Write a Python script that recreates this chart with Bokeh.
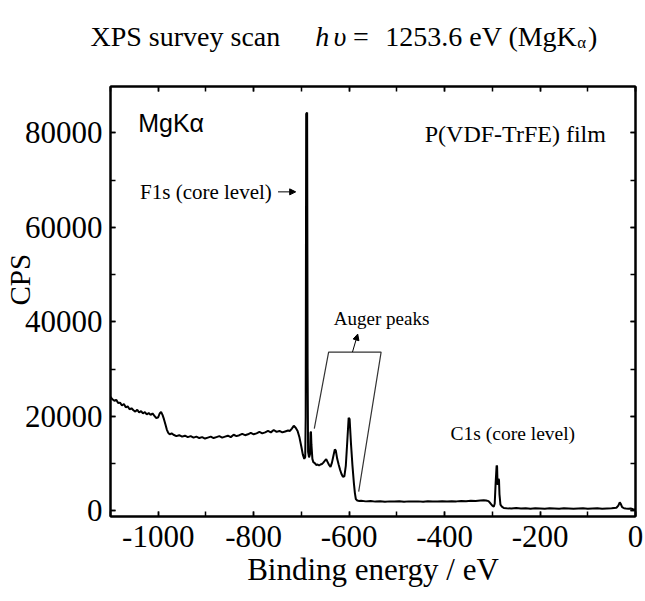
import math
from bokeh.plotting import figure
from bokeh.layouts import column
from bokeh.models import (Range1d, LinearAxis, SingleIntervalTicker, Label,
                          Arrow, NormalHead, PrintfTickFormatter, CustomJSTickFormatter)
from bokeh.embed import file_html
from bokeh.resources import INLINE

# ---------------- data ----------------
energy = [
    -1100, -1096, -1092, -1088, -1084, -1080, -1076, -1072, -1068, -1064,
    -1060, -1056, -1052, -1048, -1044, -1040, -1036, -1032, -1028, -1024,
    -1020, -1016, -1012, -1008, -1004, -1000, -997, -994, -991, -988,
    -985, -982, -979, -976, -972,
    -968, -962, -956, -950, -944, -938, -932, -926, -920, -914,
    -908, -902, -896, -890, -884, -878, -872, -866, -860, -854,
    -848, -842, -836, -830, -824, -818, -812, -806, -800, -794,
    -788, -782, -776, -770, -764, -758, -752, -746, -740, -734,
    -728, -724, -720, -716, -712, -708, -704, -700, -697, -694,
    -692, -691, -690, -688, -687, -686, -684, -682, -681, -680,
    -679, -677, -675, -672, -669, -666, -663, -660, -657, -654,
    -651, -648, -645, -642, -639, -636, -633, -630, -628, -625,
    -622, -619, -616, -613, -610, -607, -604, -601, -599, -596,
    -593, -590, -588, -586, -583, -580,
    -575, -565, -555, -545, -535, -525, -515, -505, -495, -485,
    -475, -465, -455, -445, -435, -425, -415, -405, -395, -385,
    -375, -365, -355, -345, -335, -325, -318, -313, -308, -304,
    -300, -297, -295, -293, -291, -290, -289, -288, -287, -286,
    -285, -283, -280, -276, -270, -260, -250, -240, -230, -220,
    -210, -200, -190, -180, -170, -160, -150, -140, -130, -120,
    -110, -100, -90, -80, -70, -60, -50, -40, -36, -33,
    -31, -28, -24, -20, -15, -10, -5, 0,
]
cps = [
    24100, 23600, 23300, 23500, 22800, 22900, 22300, 22600, 21900, 22100,
    21500, 21700, 21300, 21000, 21400, 20800, 21100, 20600, 20900, 20400,
    20700, 20300, 20600, 20100, 19600, 19800, 20600, 20900, 20300, 19400,
    18300, 17200, 16500, 16200, 16400,
    16100, 15800, 16000, 15700, 15900, 15600, 15800, 15500, 15700, 15400,
    15600, 15300, 15500, 15700, 15400, 15600, 15800, 15500, 15700, 15900,
    15600, 16100, 15800, 16000, 16300, 16000, 16200, 16500, 16200, 16400,
    16700, 16400, 16600, 16900, 16600, 17100, 16700, 16900, 16600, 16800,
    17000, 16900, 17400, 18000, 17600, 16900, 15500, 13500, 11900, 11000,
    11400, 20000, 84000, 84300, 30000, 12500, 11300, 12000, 16500, 16800,
    14000, 11000, 10300, 10100, 9700, 9800, 9600, 9800, 9900, 10200,
    10600, 10900, 10300, 9700, 9300, 10200, 11600, 13000, 12800, 11000,
    9800, 8700, 7800, 7200, 7300, 9500, 14500, 19700, 19400, 14000,
    9500, 5800, 3800, 2500, 2200, 2100,
    2150, 2000, 2100, 1950, 2050, 1900, 2000, 1950, 2050, 1900,
    2000, 1950, 2000, 1900, 2050, 1950, 2000, 2050, 1950, 2050,
    2000, 2100, 2050, 2150, 2100, 2200, 2250, 2200, 2050, 1600,
    1100, 900, 1500, 6000, 9600, 9400, 5500, 5800, 6800, 6500,
    3500, 1300, 900, 600, 550, 500, 600, 500, 550, 450,
    550, 500, 450, 550, 500, 450, 550, 500, 450, 500,
    550, 450, 500, 550, 450, 500, 550, 650, 1100, 1800,
    1500, 800, 550, 500, 450, 500, 350, 250,
]

x_ticks_interval = 200
y_ticks_interval = 20000

SERIF = "Liberation Serif"
SANS = "Liberation Sans"

W, H = 645, 601
TH = 60                     # height of the title strip
FL, FR, FT, FB = 108, 10, 26, 85

# ---------------- title strip (its own small figure) ----------------
t = figure(width=W, height=TH, output_backend="svg", toolbar_location=None,
           x_range=Range1d(0, W), y_range=Range1d(TH, 0),
           x_axis_type=None, y_axis_type=None,
           min_border_left=0, min_border_right=0, min_border_top=0, min_border_bottom=0)
t.frame_align = False
t.grid.visible = False
t.outline_line_color = None
t.background_fill_color = "white"
t.border_fill_color = "white"

F = 28
X0, BASE = 90, 36
parts = [
    ("XPS survey scan", 0.0, "normal", 1.0, 0),
    ("h", 6.777 + 1.25, "italic", 1.0, 0),
    ("υ", 6.777 + 1.25 + 0.65, "italic", 1.0, 0),
    ("=", 6.777 + 1.25 + 1.35, "normal", 1.0, 0),
    ("1253.6 eV (MgK", 6.777 + 1.25 + 2.5, "normal", 1.0, 0),
    ("α", 6.777 + 1.25 + 2.5 + 6.86, "normal", 0.6, 0.2),
    (")", 6.777 + 1.25 + 2.5 + 6.86 + 0.38, "normal", 1.0, 0),
]
for txt, off, style, scale, drop in parts:
    t.add_layout(Label(x=X0 + off * F, y=BASE + drop * F, text=txt,
                       text_font=SERIF, text_font_size=f"{F * scale:.1f}px",
                       text_font_style=style, text_align="left",
                       text_baseline="alphabetic", text_color="black"))

# ---------------- main figure ----------------
p = figure(width=W, height=H - TH, output_backend="svg", toolbar_location=None,
           x_range=Range1d(-1100, 0), y_range=Range1d(-1200, 89800),
           x_axis_type=None, y_axis_type=None,
           min_border_left=FL, min_border_right=FR,
           min_border_top=FT, min_border_bottom=FB)
p.frame_align = False
p.grid.visible = False
p.outline_line_color = "black"
p.outline_line_width = 2
p.background_fill_color = "white"
p.border_fill_color = "white"


def make_axis(ticker, show_labels, label=None):
    ax = LinearAxis(ticker=ticker)
    ax.axis_line_width = 2
    ax.axis_line_color = "black"
    ax.major_tick_in = 5
    ax.major_tick_out = 0
    ax.minor_tick_in = 5
    ax.minor_tick_out = 0
    ax.major_tick_line_width = 1.5
    ax.minor_tick_line_width = 1.5
    ax.major_label_text_font = SERIF
    ax.major_label_text_color = "black"
    ax.major_label_text_font_size = "31px"
    if show_labels:
        ax.formatter = PrintfTickFormatter(format="%d")
    else:
        ax.formatter = CustomJSTickFormatter(code="return ''")
        ax.major_label_standoff = 0
    if label:
        ax.axis_label = label
        ax.axis_label_text_font = SERIF
        ax.axis_label_text_font_size = "31px"
        ax.axis_label_text_font_style = "normal"
        ax.axis_label_text_color = "black"
    return ax


xb = make_axis(SingleIntervalTicker(interval=x_ticks_interval, num_minor_ticks=2), True,
               "Binding energy / eV")
xb.major_label_standoff = 9
xb.axis_label_standoff = 2
p.add_layout(xb, "below")
xt = make_axis(SingleIntervalTicker(interval=x_ticks_interval, num_minor_ticks=2), False)
p.add_layout(xt, "above")
yl = make_axis(SingleIntervalTicker(interval=y_ticks_interval, num_minor_ticks=2), True,
               "\u00a0" * 6 + "CPS")
yl.major_label_standoff = 8
yl.axis_label_text_font_size = "29px"
yl.axis_label_standoff = -14
p.add_layout(yl, "left")
yr = make_axis(SingleIntervalTicker(interval=y_ticks_interval, num_minor_ticks=2), False)
p.add_layout(yr, "right")

# spectrum
p.line(energy, cps, line_color="black", line_width=2)

# ---------------- annotations ----------------
p.add_layout(Label(x=-1042, y=82000, text="MgKα", text_font=SANS,
                   text_font_size="25px", text_align="left", text_baseline="middle",
                   text_color="black"))
p.add_layout(Label(x=-62, y=79800, text="P(VDF-TrFE) film", text_font=SERIF,
                   text_font_size="24px", text_align="right", text_baseline="middle",
                   text_color="black"))
p.add_layout(Label(x=-762, y=67500, text="F1s (core level)", text_font=SERIF,
                   text_font_size="21px", text_align="right", text_baseline="middle",
                   text_color="black"))
p.add_layout(Arrow(x_start=-749, y_start=67500, x_end=-712, y_end=67500,
                   line_color="black", line_width=1,
                   end=NormalHead(size=6, fill_color="black", line_color="black")))
p.add_layout(Label(x=-532, y=40800, text="Auger peaks", text_font=SERIF,
                   text_font_size="19px", text_align="center", text_baseline="middle",
                   text_color="black"))
p.add_layout(Label(x=-257, y=16400, text="C1s (core level)", text_font=SERIF,
                   text_font_size="19.5px", text_align="center", text_baseline="middle",
                   text_color="black"))

# Auger bracket
p.line([-673, -643, -533, -580], [17400, 33600, 33600, 4050],
       line_color="#333333", line_width=1.2)
p.add_layout(Arrow(x_start=-593, y_start=33600, x_end=-582, y_end=37400,
                   line_color="black", line_width=1,
                   end=NormalHead(size=6, fill_color="black", line_color="black")))

layout = column(t, p, spacing=0)
open("out.html", "w").write(file_html(layout, INLINE))
